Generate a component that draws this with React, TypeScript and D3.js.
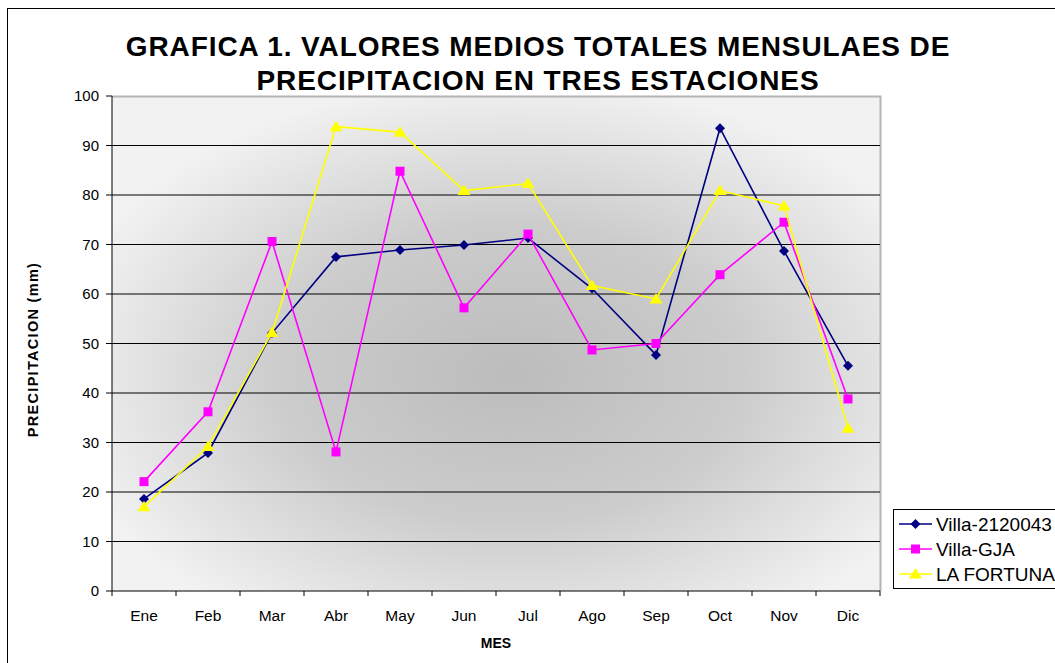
import React from 'react';
import * as d3 from 'd3';

// datos
const meses = ['Ene', 'Feb', 'Mar', 'Abr', 'May', 'Jun', 'Jul', 'Ago', 'Sep', 'Oct', 'Nov', 'Dic'];
const villa2120043 = [18.6, 27.9, 52.1, 67.5, 68.9, 69.9, 71.3, 61.1, 47.7, 93.5, 68.7, 45.5];
const villaGJA = [22.1, 36.2, 70.6, 28.1, 84.8, 57.2, 72.1, 48.7, 50.0, 63.9, 74.5, 38.8];
const laFortuna = [17.0, 29.2, 52.2, 93.8, 92.7, 80.9, 82.3, 61.7, 59.0, 80.9, 77.8, 32.9];
const yTicks = [0, 10, 20, 30, 40, 50, 60, 70, 80, 90, 100];

const series = [
  { name: 'Villa-2120043', values: villa2120043, color: '#000080', marker: 'diamond' },
  { name: 'Villa-GJA', values: villaGJA, color: '#FF00FF', marker: 'square' },
  { name: 'LA FORTUNA', values: laFortuna, color: '#FFFF00', marker: 'triangle' },
];

function Marker({ type, x, y, color }: { type: string; x: number; y: number; color: string }) {
  if (type === 'diamond') {
    return <path d={`M${x},${y - 5}L${x + 5},${y}L${x},${y + 5}L${x - 5},${y}Z`} fill={color} />;
  }
  if (type === 'square') {
    return <rect x={x - 4.5} y={y - 4.5} width={9} height={9} fill={color} />;
  }
  return <path d={`M${x},${y - 6}L${x + 6.5},${y + 4.5}L${x - 6.5},${y + 4.5}Z`} fill={color} />;
}

export default function App() {
  const left = 112;
  const right = 880;
  const top = 96;
  const bottom = 591;

  const x = d3.scaleBand().domain(meses).range([left, right]);
  const y = d3.scaleLinear().domain([0, 100]).range([bottom, top]);
  const cx = (m: string) => (x(m) as number) + x.bandwidth() / 2;

  const line = d3
    .line<number>()
    .x((d, i) => cx(meses[i]))
    .y((d) => y(d));

  const font = 'Arial, "Liberation Sans", Helvetica, sans-serif';

  return (
    <svg
      width={1055}
      height={663}
      style={{ position: 'absolute', left: 0, top: 0, background: '#fff' }}
      fontFamily={font}
    >
      <defs>
        <radialGradient id="bg" cx="0.52" cy="0.56" r="0.6" fx="0.52" fy="0.56">
          <stop offset="0" stopColor="#bcbcbc" />
          <stop offset="0.5" stopColor="#cccccc" />
          <stop offset="1" stopColor="#f2f2f2" />
        </radialGradient>
      </defs>

      {/* marco exterior */}
      <rect x={7.5} y={8.5} width={1100} height={700} fill="none" stroke="#000" strokeWidth={1} />

      {/* titulo */}
      <text x={538} y={56} textAnchor="middle" fontSize={28} fontWeight="bold" letterSpacing={0.9}>
        GRAFICA 1. VALORES MEDIOS TOTALES MENSULAES DE
      </text>
      <text x={538} y={90} textAnchor="middle" fontSize={28} fontWeight="bold" letterSpacing={0.9}>
        PRECIPITACION EN TRES ESTACIONES
      </text>

      {/* area de trazado */}
      <rect x={left} y={top} width={right - left} height={bottom - top} fill="url(#bg)" />
      <path
        d={`M${left},${top + 0.5}H${right + 0.5}V${bottom}`}
        fill="none"
        stroke="#b4b4b4"
        strokeWidth={2}
      />

      {/* rejilla */}
      {yTicks.slice(1, -1).map((t) => (
        <line key={t} x1={left} x2={right} y1={y(t)} y2={y(t)} stroke="#000" strokeWidth={1} />
      ))}

      {/* eje y */}
      <line x1={left} x2={left} y1={top} y2={bottom} stroke="#000" />
      {yTicks.map((t) => (
        <g key={t}>
          <line x1={left - 6} x2={left} y1={y(t)} y2={y(t)} stroke="#000" />
          <text x={left - 13} y={y(t) + 5} textAnchor="end" fontSize={15}>
            {t}
          </text>
        </g>
      ))}
      <text
        transform={`translate(38,${(top + bottom) / 2 + 6}) rotate(-90)`}
        textAnchor="middle"
        fontSize={14.5}
        fontWeight="bold"
        letterSpacing={1.3}
      >
        PRECIPITACION (mm)
      </text>

      {/* eje x */}
      <line x1={left} x2={right} y1={bottom} y2={bottom} stroke="#000" />
      {meses.map((m) => (
        <g key={m}>
          <line x1={x(m)} x2={x(m)} y1={bottom} y2={bottom + 5} stroke="#000" />
          <text x={cx(m)} y={621} textAnchor="middle" fontSize={15.5}>
            {m}
          </text>
        </g>
      ))}
      <line x1={right} x2={right} y1={bottom} y2={bottom + 5} stroke="#000" />
      <text x={496} y={648} textAnchor="middle" fontSize={14} fontWeight="bold">
        MES
      </text>

      {/* series */}
      {series.map((s) => (
        <g key={s.name}>
          <path d={line(s.values) as string} fill="none" stroke={s.color} strokeWidth={1.6} />
          {s.values.map((v, i) => (
            <Marker key={i} type={s.marker} x={cx(meses[i])} y={y(v)} color={s.color} />
          ))}
        </g>
      ))}

      {/* leyenda */}
      <rect x={893.5} y={509.5} width={200} height={79} fill="#fff" stroke="#000" />
      {series.map((s, i) => {
        const ly = 524 + i * 25;
        return (
          <g key={s.name}>
            <line x1={899} x2={932} y1={ly} y2={ly} stroke={s.color} strokeWidth={1.6} />
            <Marker type={s.marker} x={915.5} y={ly} color={s.color} />
            <text x={936} y={ly + 6.5} fontSize={19}>
              {s.name}
            </text>
          </g>
        );
      })}
    </svg>
  );
}
